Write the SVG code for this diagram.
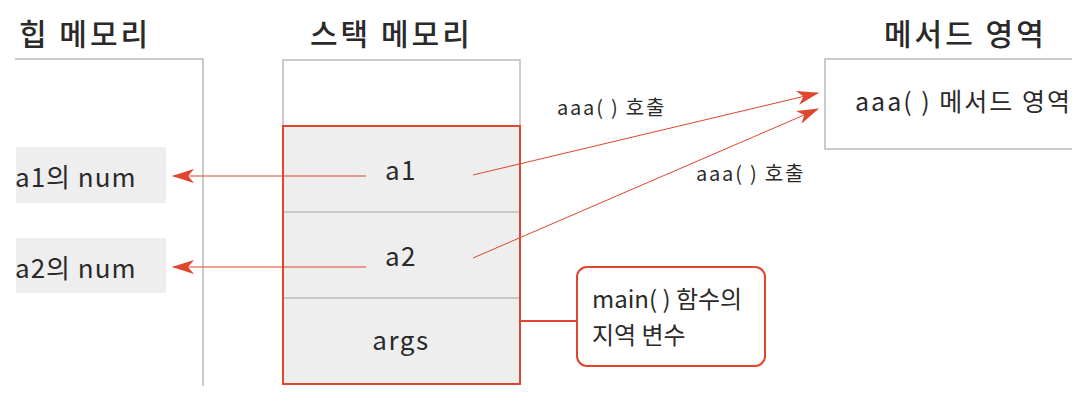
<svg xmlns="http://www.w3.org/2000/svg" width="1088" height="406" viewBox="0 0 1088 406">
<style>
text{font-family:"Noto Sans CJK KR","Noto Sans",sans-serif;fill:#2a2a2a}
.title{font-size:30px;letter-spacing:3px;font-weight:500}
.heap{font-size:26px;letter-spacing:1px}
.lbl{font-size:26px;letter-spacing:1.5px}
.mt{font-size:25px;letter-spacing:2px}
.sm{font-size:20px;letter-spacing:1.8px}
.co{font-size:24px}
.gray{fill:none;stroke:#bbbbbb;stroke-width:1.5}
.cell{fill:#eeeeee}
.red{fill:none;stroke:#e0452d;stroke-width:2}
.conn{fill:none;stroke:#e0452d;stroke-width:1}
</style>
<defs>
<marker id="ah" viewBox="0 0 22 14" refX="21" refY="7" markerWidth="22" markerHeight="14" markerUnits="userSpaceOnUse" orient="auto">
<path d="M0,0 L22,7 L0,14 L6,7 Z" fill="#e0452d"/>
</marker>
<clipPath id="cut"><rect x="0" y="0" width="1072" height="406"/></clipPath>
</defs>
<g id="heap">
<text class="title" x="19" y="45">힙 메모리</text>
<polyline class="gray" points="15,59 203,59 203,386"/>
</g>
<g id="heap-a1">
<rect class="cell" x="16" y="147" width="150" height="56"/>
<text class="heap" x="15" y="187">a1의 num</text>
</g>
<g id="heap-a2">
<rect class="cell" x="16" y="238" width="150" height="55"/>
<text class="heap" x="15" y="278">a2의 num</text>
</g>
<g id="stack">
<text class="title" x="310" y="45">스택 메모리</text>
<rect class="gray" x="283" y="60" width="237" height="66"/>
<rect class="cell" x="283" y="126" width="237" height="258"/>
<line class="gray" x1="283" y1="212" x2="520" y2="212"/>
<line class="gray" x1="283" y1="298" x2="520" y2="298"/>
<rect class="red" x="283" y="126" width="237" height="258"/>
<text class="lbl" x="401" y="180" text-anchor="middle">a1</text>
<text class="lbl" x="401" y="266" text-anchor="middle">a2</text>
<text class="lbl" x="401" y="350" text-anchor="middle">args</text>
</g>
<g id="method" clip-path="url(#cut)">
<text class="title" x="884" y="45">메서드 영역</text>
<polyline class="gray" points="1090,59 825,59 825,149 1090,149"/>
<text class="mt" x="855" y="111">aaa( ) 메서드 영역</text>
</g>
<g id="callout">
<rect class="red" x="577" y="267" width="188" height="99" rx="10"/>
<text class="co" x="592" y="308">main( ) 함수의</text>
<text class="co" x="592" y="344">지역 변수</text>
</g>
<g id="connectors">
<line class="conn" x1="366" y1="176" x2="173" y2="176" marker-end="url(#ah)"/>
<line class="conn" x1="366" y1="267" x2="173" y2="267" marker-end="url(#ah)"/>
<line class="conn" x1="473" y1="175" x2="818" y2="93" marker-end="url(#ah)"/>
<line class="conn" x1="473" y1="258" x2="818" y2="109" marker-end="url(#ah)"/>
<line class="red" x1="520" y1="321" x2="577" y2="321"/>
<text class="sm" x="557" y="115">aaa( ) 호출</text>
<text class="sm" x="696" y="181">aaa( ) 호출</text>
</g>
</svg>
